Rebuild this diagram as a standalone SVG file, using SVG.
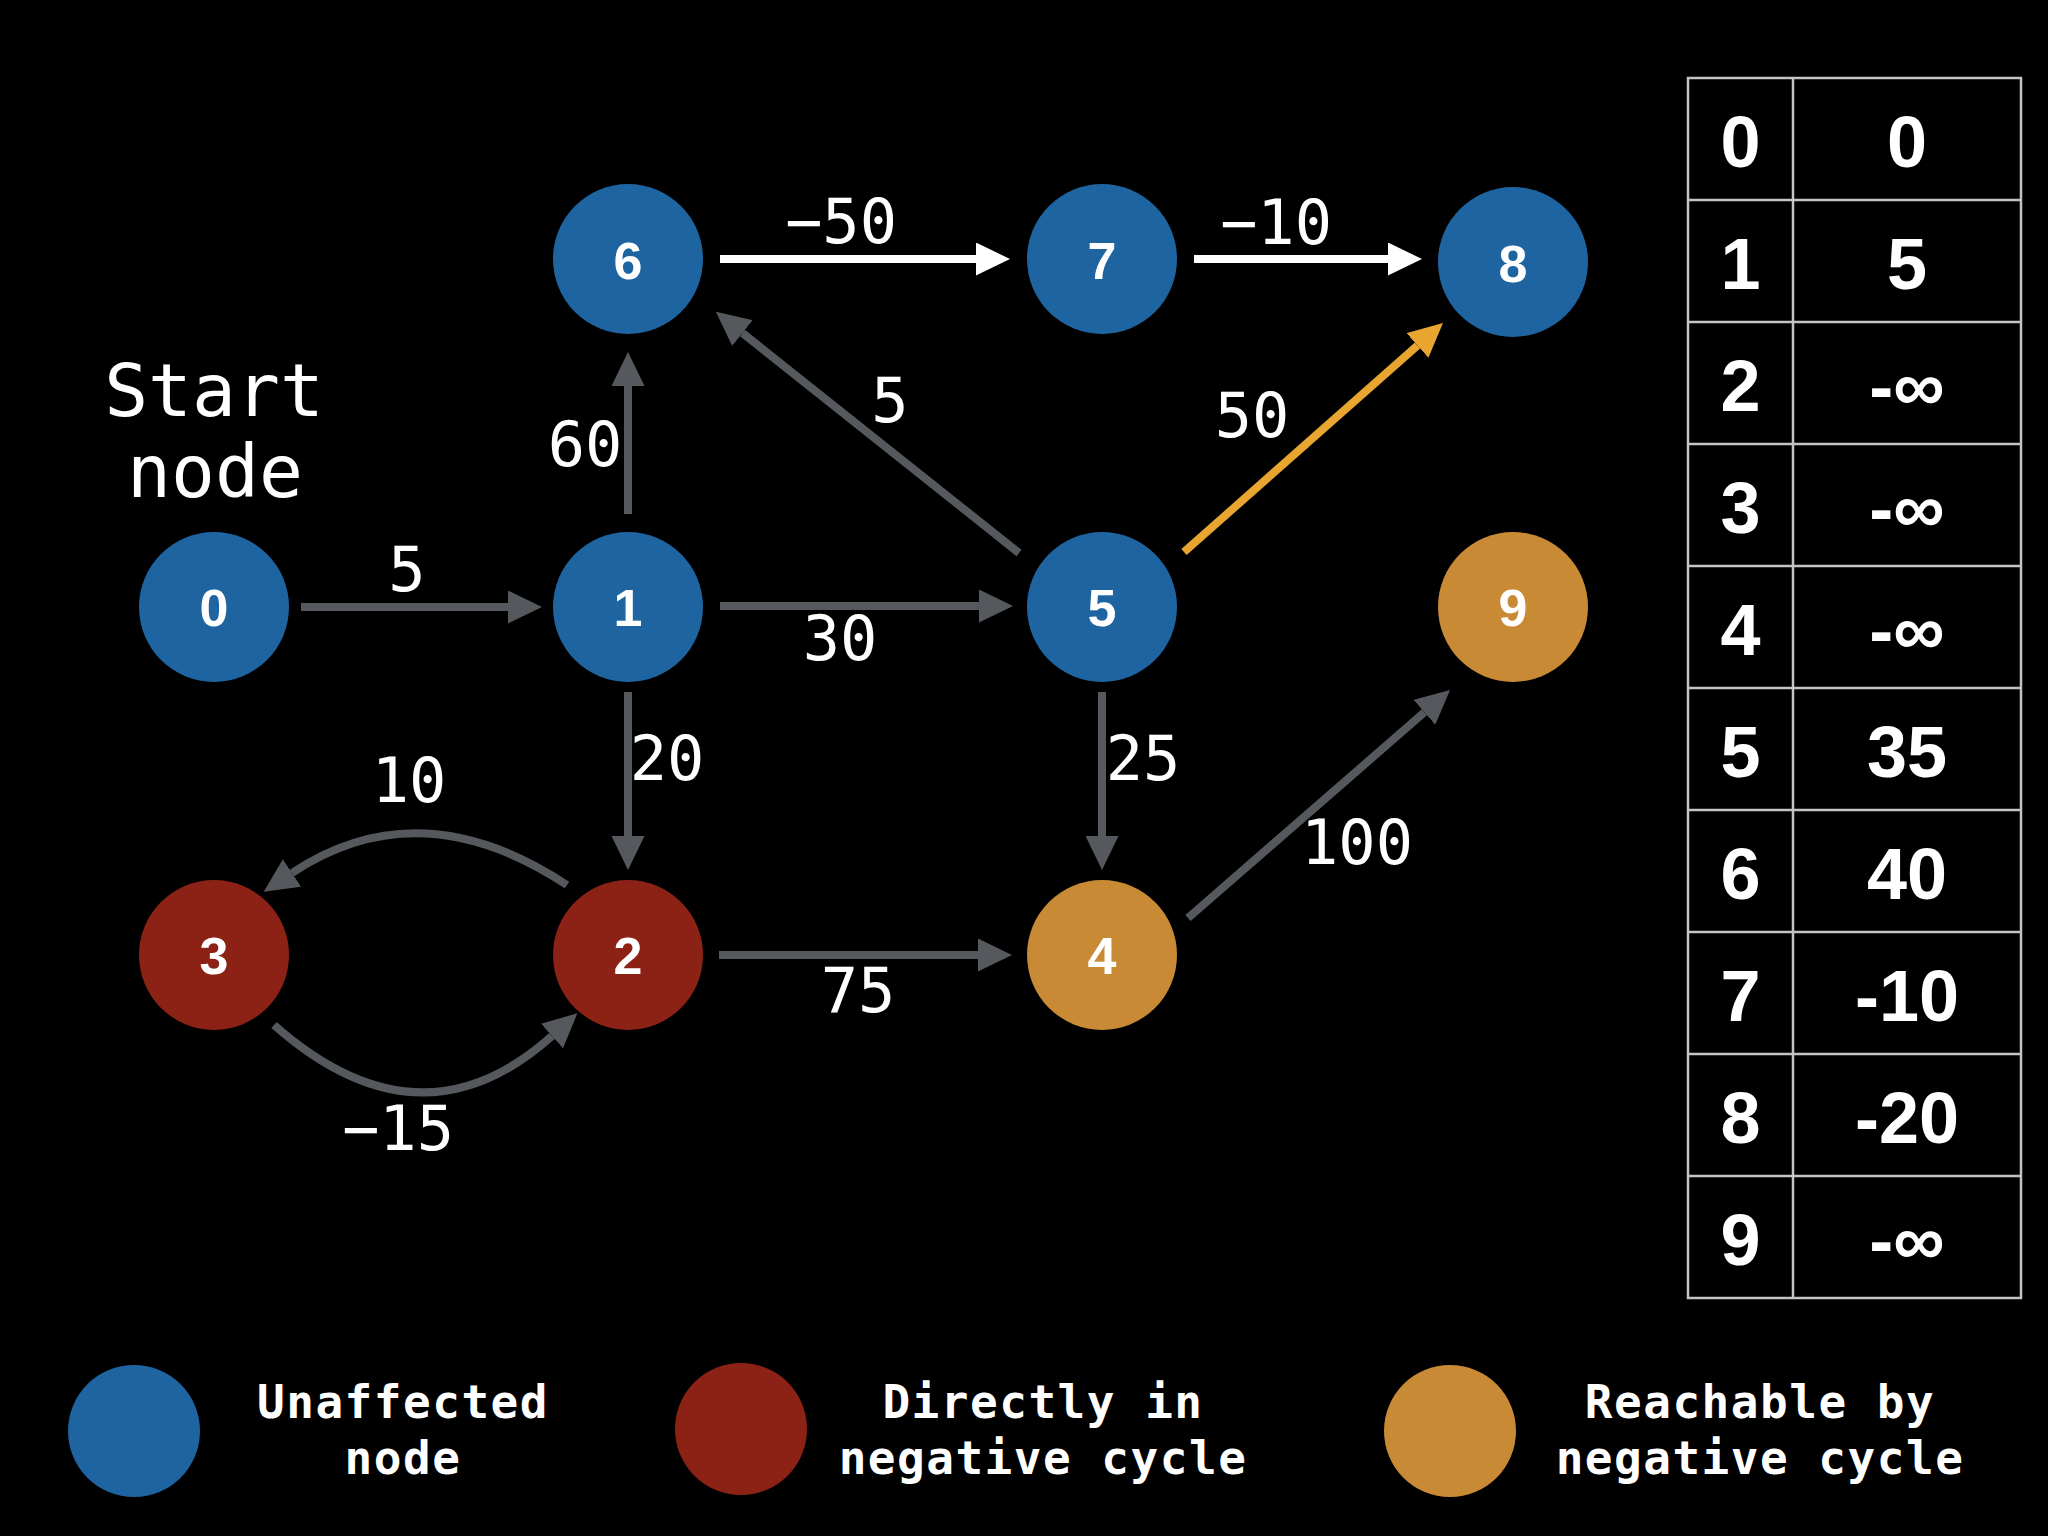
<svg xmlns="http://www.w3.org/2000/svg" width="2048" height="1536" viewBox="0 0 2048 1536">
<defs>
<style>
.edge{stroke:#55595e;stroke-width:8;fill:none}
.w{stroke:#ffffff}
.o{stroke:#e8a630}
.lbl{font-family:"DejaVu Sans Mono",monospace;font-size:62px;fill:#ffffff;text-anchor:middle}
.start{font-family:"DejaVu Sans Mono",monospace;font-size:73px;fill:#ffffff;text-anchor:middle}
.nl{font-family:"Liberation Sans",Arial,sans-serif;font-weight:bold;font-size:52px;fill:#ffffff;text-anchor:middle}
.blue{fill:#1e64a0}
.red{fill:#8c2216}
.orn{fill:#c88a34}
.tbl{fill:none;stroke:#c4c4c4;stroke-width:2.5}
.tt{font-family:"Liberation Sans",Arial,sans-serif;font-weight:bold;font-size:72px;fill:#ffffff;text-anchor:middle}
.leg{font-family:"DejaVu Sans Mono",monospace;font-weight:bold;font-size:46px;letter-spacing:1.5px;fill:#ffffff;text-anchor:middle}
</style>
<marker id="ag" markerUnits="userSpaceOnUse" viewBox="0 0 34 33" markerWidth="34" markerHeight="33" refX="0" refY="16.5" orient="auto"><path d="M0,0 L34,16.5 L0,33 z" fill="#55595e"/></marker>
<marker id="aw" markerUnits="userSpaceOnUse" viewBox="0 0 34 33" markerWidth="34" markerHeight="33" refX="0" refY="16.5" orient="auto"><path d="M0,0 L34,16.5 L0,33 z" fill="#ffffff"/></marker>
<marker id="ao" markerUnits="userSpaceOnUse" viewBox="0 0 34 33" markerWidth="34" markerHeight="33" refX="0" refY="16.5" orient="auto"><path d="M0,0 L34,16.5 L0,33 z" fill="#e8a630"/></marker>
</defs>
<rect x="0" y="0" width="2048" height="1536" fill="#000000"/>

<g id="connectors">
<line class="edge" x1="301" y1="607" x2="508" y2="607" marker-end="url(#ag)"/>
<line class="edge" x1="628" y1="514" x2="628" y2="386" marker-end="url(#ag)"/>
<line class="edge w" x1="720" y1="259" x2="976" y2="259" marker-end="url(#aw)"/>
<line class="edge w" x1="1194" y1="259" x2="1388" y2="259" marker-end="url(#aw)"/>
<line class="edge" x1="720" y1="606" x2="979" y2="606" marker-end="url(#ag)"/>
<line class="edge" x1="1019" y1="553" x2="742.5" y2="333" marker-end="url(#ag)"/>
<line class="edge o" x1="1184" y1="552" x2="1417.5" y2="345.5" marker-end="url(#ao)"/>
<line class="edge" x1="628" y1="692" x2="628" y2="836" marker-end="url(#ag)"/>
<line class="edge" x1="1102" y1="692" x2="1102" y2="836" marker-end="url(#ag)"/>
<line class="edge" x1="719" y1="955" x2="978" y2="955" marker-end="url(#ag)"/>
<line class="edge" x1="1188" y1="918" x2="1424.4" y2="712.3" marker-end="url(#ag)"/>
<path class="edge" d="M567,885 Q420,788 292,873" marker-end="url(#ag)"/>
<path class="edge" d="M274,1025 Q420,1154 552,1036" marker-end="url(#ag)"/>
<text class="lbl" x="407" y="591">5</text>
<text class="lbl" x="585" y="466">60</text>
<text class="lbl" x="841" y="243">−50</text>
<text class="lbl" x="1276" y="244">−10</text>
<text class="lbl" x="890" y="422">5</text>
<text class="lbl" x="1252" y="437">50</text>
<text class="lbl" x="840" y="660">30</text>
<text class="lbl" x="667" y="780">20</text>
<text class="lbl" x="1143" y="780">25</text>
<text class="lbl" x="409" y="802">10</text>
<text class="lbl" x="858" y="1012">75</text>
<text class="lbl" x="398" y="1150">−15</text>
<text class="lbl" x="1357" y="864">100</text>
</g>

<g id="start-label">
<text class="start" x="214" y="416">Start</text>
<text class="start" x="215" y="497">node</text>
</g>

<g id="node0"><circle class="blue" cx="214" cy="607" r="75"/><text class="nl" x="214" y="626">0</text></g>
<g id="node1"><circle class="blue" cx="628" cy="607" r="75"/><text class="nl" x="628" y="626">1</text></g>
<g id="node2"><circle class="red" cx="628" cy="955" r="75"/><text class="nl" x="628" y="974">2</text></g>
<g id="node3"><circle class="red" cx="214" cy="955" r="75"/><text class="nl" x="214" y="974">3</text></g>
<g id="node4"><circle class="orn" cx="1102" cy="955" r="75"/><text class="nl" x="1102" y="974">4</text></g>
<g id="node5"><circle class="blue" cx="1102" cy="607" r="75"/><text class="nl" x="1102" y="626">5</text></g>
<g id="node6"><circle class="blue" cx="628" cy="259" r="75"/><text class="nl" x="628" y="279">6</text></g>
<g id="node7"><circle class="blue" cx="1102" cy="259" r="75"/><text class="nl" x="1102" y="279">7</text></g>
<g id="node8"><circle class="blue" cx="1513" cy="262" r="75"/><text class="nl" x="1513" y="282">8</text></g>
<g id="node9"><circle class="orn" cx="1513" cy="607" r="75"/><text class="nl" x="1513" y="626">9</text></g>

<g id="table">
<rect class="tbl" x="1688" y="78" width="333" height="1220"/>
<line class="tbl" x1="1793" y1="78" x2="1793" y2="1298"/>
<line class="tbl" x1="1688" y1="200" x2="2021" y2="200"/>
<line class="tbl" x1="1688" y1="322" x2="2021" y2="322"/>
<line class="tbl" x1="1688" y1="444" x2="2021" y2="444"/>
<line class="tbl" x1="1688" y1="566" x2="2021" y2="566"/>
<line class="tbl" x1="1688" y1="688" x2="2021" y2="688"/>
<line class="tbl" x1="1688" y1="810" x2="2021" y2="810"/>
<line class="tbl" x1="1688" y1="932" x2="2021" y2="932"/>
<line class="tbl" x1="1688" y1="1054" x2="2021" y2="1054"/>
<line class="tbl" x1="1688" y1="1176" x2="2021" y2="1176"/>
<text class="tt" x="1740.5" y="166.5">0</text><text class="tt" x="1907" y="166.5">0</text>
<text class="tt" x="1740.5" y="288.5">1</text><text class="tt" x="1907" y="288.5">5</text>
<text class="tt" x="1740.5" y="410.5">2</text><text class="tt" x="1907" y="410.5">-∞</text>
<text class="tt" x="1740.5" y="532.5">3</text><text class="tt" x="1907" y="532.5">-∞</text>
<text class="tt" x="1740.5" y="654.5">4</text><text class="tt" x="1907" y="654.5">-∞</text>
<text class="tt" x="1740.5" y="776.5">5</text><text class="tt" x="1907" y="776.5">35</text>
<text class="tt" x="1740.5" y="898.5">6</text><text class="tt" x="1907" y="898.5">40</text>
<text class="tt" x="1740.5" y="1020.5">7</text><text class="tt" x="1907" y="1020.5">-10</text>
<text class="tt" x="1740.5" y="1142.5">8</text><text class="tt" x="1907" y="1142.5">-20</text>
<text class="tt" x="1740.5" y="1264.5">9</text><text class="tt" x="1907" y="1264.5">-∞</text>
</g>

<g id="legend-unaffected">
<circle class="blue" cx="134" cy="1431" r="66"/>
<text class="leg" x="403" y="1418">Unaffected</text>
<text class="leg" x="403" y="1474">node</text>
</g>
<g id="legend-direct">
<circle class="red" cx="741" cy="1429" r="66"/>
<text class="leg" x="1043" y="1418">Directly in</text>
<text class="leg" x="1043" y="1474">negative cycle</text>
</g>
<g id="legend-reachable">
<circle class="orn" cx="1450" cy="1431" r="66"/>
<text class="leg" x="1760" y="1418">Reachable by</text>
<text class="leg" x="1760" y="1474">negative cycle</text>
</g>
</svg>
